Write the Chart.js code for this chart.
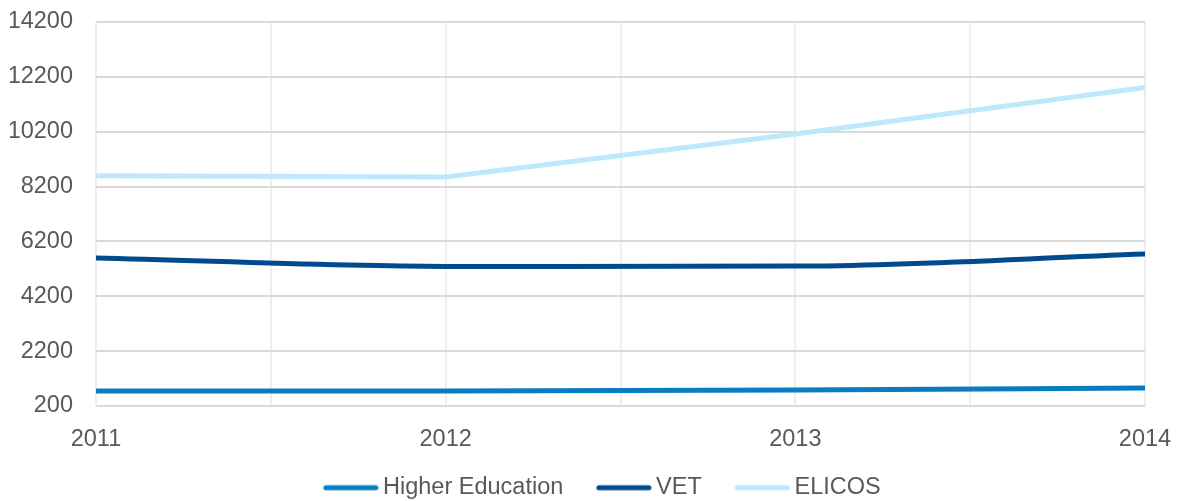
<!DOCTYPE html>
<html lang="en">
<head>
    <meta charset="UTF-8">
    <title>Students</title>
    <script src="https://cdn.jsdelivr.net/npm/chart.js@4.4.1/dist/chart.umd.min.js"></script>
    <style>
        html, body{
            margin: 0;
            padding: 0;
            background: #ffffff;
        }
        .grafica{
            width: 1179px;
            height: 501px;
        }
    </style>
</head>
<body>
    <div class="grafica">
        <canvas id="miCanvas"></canvas>
    </div>
    <script>
        // data
        const years = [2011, 2012, 2013, 2014];
        const higherEd = [750, 750, 785, 855];
        const vet = [5600, 5290, 5300, 5740];
        const elicos = [8590, 8550, 10120, 11810];
        const yTicks = [200, 2200, 4200, 6200, 8200, 10200, 12200, 14200];

        const toPoints = (vals) => vals.map((v, i) => ({x: years[i], y: v}));

        const textColor = '#595959';
        const font = {family: "'Liberation Sans', Arial, sans-serif", size: 23.5};

        // legend swatch: a short thick line sitting close to the text
        const swatch = (color) => {
            const c = document.createElement('canvas');
            c.width = 66;
            c.height = 8;
            const g = c.getContext('2d');
            g.strokeStyle = color;
            g.lineWidth = 5;
            g.lineCap = 'round';
            g.beginPath();
            g.moveTo(13, 4);
            g.lineTo(63, 4);
            g.stroke();
            return c;
        };

        // nudge the legend a bit left of the plot centre, like the original
        const legendShift = {
            id: 'legendShift',
            afterLayout(chart) {
                chart.legend.left -= 20;
                chart.legend.right -= 20;
            }
        };

        const ctx = document.getElementById("miCanvas").getContext("2d");
        window.miCanva = new Chart(ctx, {
            type: "line",
            plugins: [legendShift],
            data: {
                datasets: [
                    {
                        label: "Higher Education",
                        data: toPoints(higherEd),
                        borderColor: '#0A7CC1',
                        backgroundColor: '#0A7CC1',
                        borderWidth: 5,
                        borderCapStyle: 'round',
                        pointRadius: 0,
                        pointStyle: swatch('#0A7CC1'),
                        cubicInterpolationMode: 'monotone'
                    },
                    {
                        label: "VET",
                        data: toPoints(vet),
                        borderColor: '#024A8E',
                        backgroundColor: '#024A8E',
                        borderWidth: 5,
                        borderCapStyle: 'round',
                        pointRadius: 0,
                        pointStyle: swatch('#024A8E'),
                        cubicInterpolationMode: 'monotone'
                    },
                    {
                        label: "ELICOS",
                        data: toPoints(elicos),
                        borderColor: '#BDE9FB',
                        backgroundColor: '#BDE9FB',
                        borderWidth: 5,
                        borderCapStyle: 'round',
                        pointRadius: 0,
                        pointStyle: swatch('#BDE9FB'),
                        tension: 0
                    }
                ]
            },
            options: {
                responsive: true,
                maintainAspectRatio: false,
                animation: false,
                layout: {
                    padding: {left: 10, right: 34, top: 22, bottom: 0}
                },
                plugins: {
                    tooltip: {enabled: false},
                    legend: {
                        position: 'bottom',
                        fullSize: false,
                        maxHeight: 55,
                        labels: {
                            color: textColor,
                            font: font,
                            usePointStyle: true,
                            pointStyleWidth: 51,
                            padding: 30
                        }
                    }
                },
                scales: {
                    x: {
                        type: 'linear',
                        min: years[0],
                        max: years[years.length - 1],
                        grid: {
                            color: '#eeeeee',
                            lineWidth: 2,
                            drawTicks: false
                        },
                        border: {display: false},
                        ticks: {
                            stepSize: 0.5,
                            autoSkip: false,
                            maxRotation: 0,
                            color: textColor,
                            font: font,
                            padding: 19,
                            callback: (v) => Number.isInteger(v) ? String(v) : ''
                        },
                        afterFit: (axis) => {
                            axis.height = 40;
                            axis.paddingLeft = 0;
                            axis.paddingRight = 0;
                        }
                    },
                    y: {
                        min: yTicks[0],
                        max: yTicks[yTicks.length - 1],
                        afterBuildTicks: (axis) => {
                            axis.ticks = yTicks.map((v) => ({value: v}));
                        },
                        grid: {
                            color: '#d9d9d9',
                            lineWidth: 2,
                            drawTicks: false
                        },
                        border: {display: false},
                        ticks: {
                            color: textColor,
                            font: font,
                            padding: 23,
                            callback: (v) => String(v)
                        },
                        afterFit: (axis) => {
                            axis.width = 86;
                            axis.paddingTop = 0;
                            axis.paddingBottom = 0;
                        }
                    }
                }
            }
        });
    </script>
</body>
</html>
